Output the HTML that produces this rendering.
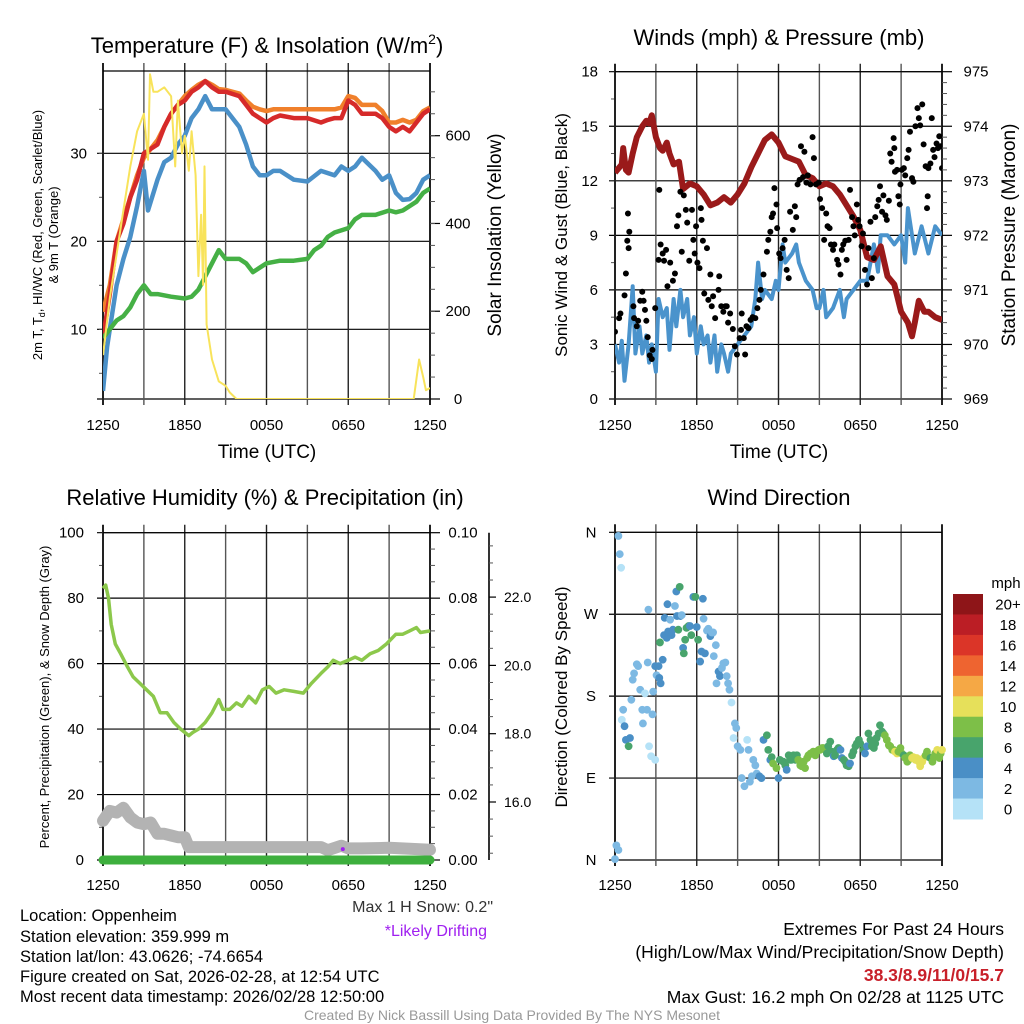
<!DOCTYPE html>
<html><head><meta charset="utf-8">
<style>
html,body{margin:0;padding:0;background:#fff;}
svg{display:block;font-family:"Liberation Sans",Arial,sans-serif;}
</style></head>
<body>
<svg id="chart" width="1024" height="1024" viewBox="0 0 1024 1024" xmlns="http://www.w3.org/2000/svg">
<rect width="1024" height="1024" fill="#fff"/>
<g id="layer"></g>
<text x="267" y="53" font-size="22" text-anchor="middle">Temperature (F) &amp; Insolation (W/m<tspan dy="-9" font-size="14">2</tspan><tspan dy="9">)</tspan></text>
<text x="779" y="45" font-size="22" text-anchor="middle">Winds (mph) &amp; Pressure (mb)</text>
<text x="265" y="505" font-size="22" text-anchor="middle">Relative Humidity (%) &amp; Precipitation (in)</text>
<text x="779" y="505" font-size="22" text-anchor="middle">Wind Direction</text>
<text x="267" y="458" font-size="19" text-anchor="middle">Time (UTC)</text>
<text x="779" y="458" font-size="19" text-anchor="middle">Time (UTC)</text>
<text transform="translate(42,235) rotate(-90)" font-size="13" text-anchor="middle">2m T, T<tspan font-size="9" dy="3">d</tspan><tspan dy="-3">, HI/WC (Red, Green, Scarlet/Blue)</tspan></text>
<text transform="translate(58,235) rotate(-90)" font-size="13" text-anchor="middle">&amp; 9m T (Orange)</text>
<text transform="translate(501,235) rotate(-90)" font-size="19" text-anchor="middle">Solar Insolation (Yellow)</text>
<text transform="translate(567,235) rotate(-90)" font-size="17" text-anchor="middle">Sonic Wind &amp; Gust (Blue, Black)</text>
<text transform="translate(1015,235) rotate(-90)" font-size="19" text-anchor="middle">Station Pressure (Maroon)</text>
<text transform="translate(49,697) rotate(-90)" font-size="13" text-anchor="middle">Percent, Precipitation (Green), &amp; Snow Depth (Gray)</text>
<text transform="translate(567,697) rotate(-90)" font-size="17" text-anchor="middle">Direction (Colored By Speed)</text>
<text x="493" y="912" font-size="16" fill="#333" text-anchor="end">Max 1 H Snow: 0.2"</text>
<text x="487" y="936" font-size="16" fill="#a020f0" text-anchor="end">*Likely Drifting</text>
<g font-size="16.5">
<text x="20" y="921">Location: Oppenheim</text>
<text x="20" y="942">Station elevation: 359.999 m</text>
<text x="20" y="962">Station lat/lon: 43.0626; -74.6654</text>
<text x="20" y="982">Figure created on Sat, 2026-02-28, at 12:54 UTC</text>
<text x="20" y="1002">Most recent data timestamp: 2026/02/28 12:50:00</text>
</g>
<g font-size="17.5" text-anchor="end">
<text x="1004" y="935">Extremes For Past 24 Hours</text>
<text x="1004" y="958">(High/Low/Max Wind/Precipitation/Snow Depth)</text>
<text x="1004" y="981" fill="#c8202a" font-weight="bold">38.3/8.9/11/0/15.7</text>
<text x="1004" y="1003">Max Gust: 16.2 mph On 02/28 at 1125 UTC</text>
</g>
<text x="512" y="1020" font-size="14" fill="#999" text-anchor="middle">Created By Nick Bassill Using Data Provided By The NYS Mesonet</text>
</svg>
<script>
const timeLabels = ["1250","1850","0050","0650","1250"];
const timeTickHours = [0,6,12,18,24];
const tempTimes = [0,0.5,1,1.5,2,2.5,3,3.5,4,4.5,5,5.5,6,6.5,7,7.5,8,8.5,9,10,10.5,11,11.5,12,12.5,13,14,15,16,16.5,17,17.5,18,18.5,19,20,20.5,21,21.5,22,22.5,23,23.5,24];
const temp2m = [9,14,20,22,25,27,30,30.5,31,33,34.5,35.5,36,37,37.5,38.2,37.5,37,37,36.5,35.5,34.5,34,33.5,34,34.3,34,34,33.5,33.8,34,34,36,35.5,34.5,34.5,34,33,32.5,33,32.5,33.5,34.5,35];
const temp9m = [12,15,20,22.5,25,27.5,29.5,30.5,31.5,33,34.5,35.5,36.5,37.2,37.8,38.2,37.8,37.3,37.2,36.8,36,35.3,35,34.8,35,35,35,35,35,35,35,35.2,36.5,36.3,35.5,35.5,34.8,33.5,33.5,33.8,33.5,33.8,34.8,35.2];
const heatIndexTimes = [0,0.3,0.7,1,1.5,2,2.5,3,3.3,4,4.5,5,5.5,6,6.5,7,7.5,8,9,10,10.5,11,11.5,12,12.5,13,14,15,16,17,17.5,18,18.5,19,20,20.5,21,21.5,22,22.5,23,23.5,24];
const heatIndex = [3,8,12,15,18,20.5,24,28,23.5,27,29,29.5,31,32,34,35,36.5,35,35,33,31,28.5,27.5,27.5,28,28,27,26.8,28,27.5,28.5,28,28.5,29.5,28,27,27.5,25.5,24.7,24.8,25.5,27,27.5];
const dewTimes = [0,0.5,1,1.5,2,2.5,3,3.5,4,5,6,6.5,7,7.5,8,8.5,9,10,10.5,11,11.5,12,13,14,15,15.5,16,16.5,17,18,18.5,19,20,21,21.5,22,22.5,23,23.5,24];
const dewPoint = [9,10,11,11.5,12.5,14,15,14,14,13.7,13.5,13.7,14.5,16,17.5,19,18,18,17.5,16.5,17,17.5,17.8,17.8,18,19,19.5,20.5,21,21.5,22.5,23,23,23.5,23.3,23.5,24,24.5,25.5,26];
const solarTimes = [0,0.5,1,1.5,2,2.5,3,3.3,3.45,3.7,4,4.5,5,5.3,5.5,5.8,6,6.3,6.5,6.8,7,7.2,7.35,7.45,7.6,8,8.5,9,9.3,9.8,22.8,23.2,23.5,23.7,24];
const solar = [100,230,330,430,530,610,650,545,740,700,700,710,690,530,680,560,600,520,610,510,280,420,260,530,170,90,40,30,15,0,0,90,50,20,25];
const windTimes = [0,0.3,0.5,0.7,1,1.3,1.5,1.8,2,2.3,2.5,2.7,3,3.2,3.5,3.8,4,4.3,4.5,4.8,5,5.3,5.5,5.8,6,6.3,6.5,6.8,7,7.3,7.5,7.8,8,8.3,8.5,9,9.5,10,10.3,10.5,10.8,11,11.5,11.8,12,12.3,12.5,13,13.3,13.5,14,14.5,14.8,15,15.3,15.5,16,16.5,16.8,17,17.5,18,18.5,19,19.3,19.5,20,20.5,21,21.3,21.5,22,22.5,23,23.5,24];
const windSpeed = [3,2,3.2,1,3,6.2,2.5,4,2.5,3.5,2,3,1.5,5.5,4.5,5,2.7,5.5,4,6,4.5,5.5,3.5,4.5,2.5,4,3,3.5,2,3.5,1.5,3,2.5,1.5,2.5,3,3.5,4,5.5,7.5,5.5,6,5.5,6.5,6,8.5,7.5,8,8.5,7.5,6.5,6,5,5,6,4.5,5,6,4.5,5.5,6,6.5,6.5,8.5,7,9,9,8.5,9,7.5,10.5,8,9.5,8,9.5,9];
const gustTimes = [0,0.3,0.4,0.7,0.8,0.9,0.95,1.05,1,1.35,1.4,1.6,1.7,1.85,2,2.1,2.2,2.3,2.4,2.55,2.7,2.75,2.95,3.2,3.25,3.35,3.5,3.6,3.75,3.85,4.05,4.25,4.4,4.55,4.65,4.8,4.9,5.05,5.2,5.3,5.45,5.65,5.75,5.85,5.95,6.05,6.2,6.3,6.35,6.45,6.55,6.75,6.85,7,7.1,7.2,7.35,7.6,7.65,7.8,7.95,8.1,8.2,8.3,8.45,8.65,8.8,8.95,9.15,9.25,9.3,9.45,9.55,9.65,9.8,9.95,10.1,10.3,10.45,10.6,10.7,10.9,11.15,11.25,11.4,11.5,11.6,11.7,11.85,11.9,12.05,12.15,12.3,12.45,12.6,12.75,12.85,13.05,13.2,13.3,13.4,13.55,13.65,13.8,13.9,14.05,14.15,14.35,14.5,14.6,14.75,14.95,15.05,15.2,15.35,15.5,15.6,15.75,15.85,16,16.1,16.3,16.4,16.55,16.65,16.75,16.9,17,17.15,17.25,17.4,17.5,17.6,17.75,17.85,17.95,18.1,18.2,18.35,18.5,18.6,18.75,18.85,19,19.1,19.25,19.35,19.45,19.6,19.7,19.85,19.95,20.1,20.2,20.3,20.45,20.5,20.55,20.7,20.8,20.9,20.95,21.05,21.2,21.3,21.45,21.55,21.65,21.8,21.9,22.05,22.2,22.3,22.4,22.55,22.65,22.8,22.9,22.95,23,23.15,23.25,23.35,23.45,23.6,23.7,23.8,23.9,24];
const gustSpeed = [3.7,4.45,4.7,5.7,6.9,8.7,10.2,9.2,8.3,5.1,4.45,4,4.3,5.4,5.9,5.4,4.9,4.3,3.4,2.4,2.2,2.7,5,7.65,11.5,8.5,8,7.6,8.2,6.2,7.5,6.5,6.9,9.5,10.1,11.4,8.1,11.2,10.4,9.7,7.6,10.4,8.75,8,9.5,7.5,7.2,10.5,9.85,8.7,5.8,8.3,5.45,6.85,5.1,5.65,4.45,6,6.75,5.1,4.8,5.1,5.1,4.2,4.7,3.85,2.9,2.45,3.35,3.8,4.7,3.35,2.45,4,3.9,4.35,4.5,4.45,5,5.45,6,6.85,8.1,8.75,9.2,10,10.2,11.6,10.7,9.4,8,7.75,8.3,8.75,7.1,6.65,10.3,9.3,10.6,10,11.8,12.05,13.9,12.2,13.6,11.9,12.3,11.8,14.4,13.25,11.8,11.9,11,10.5,8.75,10.2,9.5,9.4,8.5,8.2,8.5,7.65,7.4,6.85,8.2,8.5,8.7,7.65,8.75,11.5,10,9.5,9,10.7,9.85,9.5,8.4,9.1,7.1,6.3,8.3,9.75,6.65,7.75,10,10.6,10.95,11.7,10.3,11.2,10.1,9.85,10.9,13.5,13.05,14.35,13.8,12.5,12.6,11.15,10.7,11.8,12.6,12.7,12.3,13.25,13.7,14.7,12.15,11.95,15,16,15.45,15.05,16.2,14,12.8,10.5,11.15,12.7,12.95,15.45,13.7,13.3,14.05,13.8,14.45,13.9,12.7];
const pressTimes = [0,0.5,0.6,0.8,1,1.3,1.6,2,2.3,2.5,2.7,3,3.3,3.5,3.8,4,4.3,4.7,5,5.5,6,6.5,7,7.5,8,8.5,9,9.5,10,10.5,11,11.5,12,12.5,13,13.5,14,14.5,15,15.5,16,16.5,17,17.5,18,18.5,19,19.5,20,20.5,21,21.5,21.8,22,22.3,22.7,23,23.5,24];
const pressure = [973.15,973.3,973.6,973.2,973.15,973.5,973.8,974.0,974.1,974.05,974.2,973.8,973.6,973.55,973.7,973.5,973.3,973.35,972.85,972.95,972.9,972.75,972.55,972.6,972.7,972.6,972.75,972.95,973.25,973.5,973.75,973.85,973.7,973.45,973.4,973.35,973.1,973.05,972.9,972.95,972.9,972.75,972.55,972.35,972.1,971.6,971.55,971.8,971.25,971.1,970.6,970.4,970.15,970.4,970.8,970.6,970.6,970.5,970.45];
const rhTimes = [0,0.2,0.4,0.6,0.9,1.3,1.8,2.2,2.7,3.2,3.7,4.2,4.7,5.2,5.7,6.3,6.6,7,7.5,8,8.5,8.8,9.3,9.8,10.2,10.7,11.2,11.7,12.2,12.7,13.3,14,14.7,15.3,16,16.5,16.9,17.4,18,18.5,19,19.6,20.2,20.8,21.5,22,22.5,23,23.3,24];
const relHumidity = [83,84,80,72,66,63,59,56,54,52,50,45,45,42,40,38,39,40,42,45,49,46,46,48,47,50,48,52,53,51,52,51.5,51,54,57,59,61,60,61,62,61,63,64,66,69,69,70,71,69.5,70];
const snowTimes = [0,0.5,1,1.5,2,2.5,3,3.5,4,4.5,5,5.5,6,6.3,7,10,14,16,16.5,17.5,18,19,21,24];
const snowDepth = [15.45,15.74,15.69,15.83,15.55,15.4,15.35,15.4,15.07,15.07,15.02,14.97,14.97,14.68,14.68,14.68,14.68,14.68,14.59,14.72,14.64,14.64,14.66,14.6];
const precipTimes = [0,24];
const precip = [0,0];
const driftTimes = [17.6];
const driftDepth = [14.62];
const dirTimes = [0.25,0.35,0.45,0,0.1,0.25,0.6,0.5,0.7,0.8,1,1.1,1.2,1.3,1.4,1.6,1.7,1.85,2,2.05,2.2,2.35,2.4,2.45,2.5,2.65,2.75,2.8,2.95,2.95,3.05,3.2,3.25,3.3,3.35,3.5,3.6,3.65,3.8,3.85,3.9,4.05,4.15,4.25,4.4,4.5,4.55,4.75,4.65,4.8,4.9,5,5.05,5.15,5.25,5.4,5.5,5.6,5.75,5.9,6,6.1,6.25,6.35,6.45,6.5,6.6,6.75,6.85,7,7.1,7.2,7.25,7.4,7.45,7.6,7.7,7.85,7.95,8.1,8.2,8.3,8.4,8.55,8.7,8.8,8.9,9,9.2,9.3,9.5,9.7,9.8,9.9,10.05,10.15,10.3,10.4,10.6,10.75,10.9,11.15,11.25,11.4,11.5,11.6,11.85,12,12.1,12.35,12.5,12.6,12.75,12.85,12.95,13.1,13.25,13.35,13.45,13.6,13.7,13.85,13.95,14.1,14.2,14.35,14.45,14.55,14.7,14.8,14.95,15.05,15.2,15.3,15.45,15.55,15.65,15.8,15.9,16.05,16.15,16.3,16.4,16.55,16.65,16.8,16.9,17,17.15,17.25,17.4,17.5,17.65,17.75,17.9,18,18.25,18.35,18.5,18.6,18.75,18.85,19,19.1,19.2,19.35,19.45,19.6,19.7,19.8,19.95,20.1,20.2,20.35,20.45,20.55,20.7,20.8,20.95,21.05,21.2,21.3,21.45,21.55,21.65,21.8,21.9,22.05,22.15,22.3,22.4,22.55,22.65,22.8,22.9,23.05,23.15,23.3,23.4,23.5,23.65,23.8,23.9,24];
const dirDegrees = [356,336,321,1,16,11,165,154,147,132,125,134,176,198,205,215,213,187,165,150,183,165,217,275,125,114,160,185,110,213,203,213,200,239,194,220,247,266,244,281,251,264,247,253,279,295,268,300,253,268,269,233,227,242,255,257,257,247,289,289,256,242,218,229,287,265,227,252,254,246,250,250,224,236,194,207,202,211,216,217,202,194,187,173,134,150,145,125,121,90,81,132,121,86,92,110,104,95,92,90,132,137,121,110,113,106,101,90,110,108,104,99,115,110,110,115,110,115,110,104,103,108,101,112,115,117,117,119,115,119,121,121,123,123,121,117,125,130,119,114,115,121,123,121,112,110,108,104,103,106,115,119,125,128,132,128,121,117,125,139,132,125,123,128,134,139,148,141,139,137,132,126,125,121,121,119,117,119,123,117,115,112,108,110,115,112,113,110,112,108,103,108,112,115,119,113,112,108,113,117,121,112,117,121];
const dirSpeeds = [3,3,1,3,2,2,3,1,4,4,6,4,3,3,3,3,3,3,3,3,1,3,3,3,1,1,3,3,1,4,3,4,4,6,4,4,4,4,4,4,4,3,4,4,3,4,4,6,6,4,3,4,6,6,6,6,4,6,4,6,4,6,4,4,4,3,4,3,3,4,3,3,3,3,3,4,4,3,3,3,3,3,3,1,1,3,3,3,3,3,3,1,3,3,3,3,3,3,4,4,4,6,6,4,6,8,8,4,6,6,6,4,6,6,6,6,6,6,8,8,8,8,8,8,8,8,8,8,8,8,8,8,8,8,8,6,6,6,6,4,6,6,6,4,4,6,6,6,6,4,6,6,6,6,6,6,6,4,4,6,6,6,6,6,6,6,6,6,6,8,8,8,8,8,8,10,10,8,8,8,6,8,8,8,8,10,10,10,10,10,10,10,10,8,8,8,6,8,8,8,10,8,8,10,8,8];
const speedBinLabels = ["0","2","4","6","8","10","12","14","16","18","20+"];
const speedBinColors = ["#b5e2f7","#7db9e3","#4a8fc6","#48a46c","#7dbf48","#e6e05a","#f5a845","#ee6430","#db3528","#bb1e25","#8e1518"];

const NS = "http://www.w3.org/2000/svg";
const layer = document.getElementById("layer");
function scale(d0,d1,r0,r1){return v=>r0+(v-d0)/(d1-d0)*(r1-r0);}
function el(tag, attrs, parent){
  const e=document.createElementNS(NS,tag);
  for(const k in attrs) e.setAttribute(k,attrs[k]);
  (parent||layer).appendChild(e);
  return e;
}
function linePath(xs,ys,X,Y){
  return xs.map((t,i)=>(i?"L":"M")+X(t).toFixed(1)+","+Y(ys[i]).toFixed(1)).join("");
}
function panel(name,x0,x1,y0,y1,yTicksPix,leftMinorPix){
  const g=el("g",{});
  
  
  yTicksPix.forEach(y=>{
    const l=el("line",{x1:x0-6,x2:x1,y1:y,y2:y,stroke:"#000","stroke-width":1.2},g);
    
    
  });
  (leftMinorPix||[]).forEach(y=>{
    const l=el("line",{x1:x0-4,x2:x0,y1:y,y2:y,stroke:"#555","stroke-width":1},g);
    
    
  });
  for(let i=0;i<=8;i++){
    const x=x0+(x1-x0)*i/8;
    const l=el("line",{x1:x,x2:x,y1:y0-8,y2:y1+6,stroke:i%2?"#555":"#222","stroke-width":(i==0||i==8)?2:1.4},g);
    
    
  }
  const top=el("line",{x1:x0,x2:x1,y1:y0,y2:y0,stroke:"#000","stroke-width":1.2},g);
  
  
  return g;
}
function timeLabelsAt(name,X,y){
  timeTickHours.forEach((h,i)=>{
    const t=el("text",{x:X(h),y:y,"font-size":15,"text-anchor":"middle"});
    t.textContent=timeLabels[i];
    
    
  });
}
function leftLabels(name,vals,Y,x,fs){
  vals.forEach(v=>{
    const t=el("text",{x:x,y:Y(v)+5,"font-size":fs||15,"text-anchor":"end"});
    t.textContent=v;
    
    
  });
}
function rightAxis(name,xa,vals,minor,Y,fmt,lx){
  vals.forEach(v=>{
    const tk=el("line",{x1:xa,x2:xa+10,y1:Y(v),y2:Y(v),stroke:"#000","stroke-width":1.2});
    
    
    const t=el("text",{x:lx,y:Y(v)+5,"font-size":15,"text-anchor":"middle"});
    t.textContent=fmt(v);
    
    
  });
  minor.forEach(v=>{
    const tk=el("line",{x1:xa,x2:xa+5,y1:Y(v),y2:Y(v),stroke:"#555","stroke-width":1});
    
    
  });
}
function range(a,b,s){const r=[];for(let v=a;v<=b+1e-9;v+=s)r.push(+v.toFixed(4));return r;}

const X1=scale(0,24,103,430);
const YT=scale(10,30,329.3,153.3);
const YS=scale(0,600,399,135.7);
panel("temperature",103,430,71,399,[YT(10),YT(20),YT(30),399],range(5,35,5).map(YT).filter(y=>y<399&&y>71));
leftLabels("temperature",[10,20,30],YT,87);
rightAxis("solar",430,[0,200,400,600],range(50,700,50),YS,v=>v,458);
const clip1=el("clipPath",{id:"c1"});el("rect",{x:103,y:71,width:327,height:328},clip1);
const gT=el("g",{"clip-path":"url(#c1)"});


let p;
p=el("path",{d:linePath(tempTimes,temp9m,X1,YT),fill:"none",stroke:"#f0802b","stroke-width":4.5,"stroke-linejoin":"round"},gT);


p=el("path",{d:linePath(tempTimes,temp2m,X1,YT),fill:"none",stroke:"#d62a2a","stroke-width":4.5,"stroke-linejoin":"round"},gT);


p=el("path",{d:linePath(heatIndexTimes,heatIndex,X1,YT),fill:"none",stroke:"#4a90c8","stroke-width":4.5,"stroke-linejoin":"round"},gT);


p=el("path",{d:linePath(dewTimes,dewPoint,X1,YT),fill:"none",stroke:"#45b045","stroke-width":4.5,"stroke-linejoin":"round"},gT);


p=el("path",{d:linePath(solarTimes,solar,X1,YS),fill:"none",stroke:"#f8e35b","stroke-width":2,"stroke-linejoin":"round"},gT);


timeLabelsAt("temperature",X1,430);

const X2=scale(0,24,615,942);
const YW=scale(0,18,399,71.7);
const YP=scale(969,975,399,71.7);
panel("winds",615,942,71.7,399,range(0,18,3).map(YW),range(1.5,16.5,3).map(YW));
leftLabels("winds",range(0,18,3),YW,598);
rightAxis("pressure",942,range(969,975,1),range(969.2,974.8,0.2).filter(v=>Math.abs(v-Math.round(v))>0.01),YP,v=>v,976);
const clip2=el("clipPath",{id:"c2"});el("rect",{x:615,y:71,width:327,height:328},clip2);
const gW=el("g",{"clip-path":"url(#c2)"});


p=el("path",{d:linePath(windTimes,windSpeed,X2,YW),fill:"none",stroke:"#4a93cc","stroke-width":4,"stroke-linejoin":"round"},gW);


p=el("path",{d:linePath(pressTimes,pressure,X2,YP),fill:"none",stroke:"#9a1a1a","stroke-width":6,"stroke-linejoin":"round"},gW);


gustTimes.forEach((t,i)=>{
  const c=el("circle",{cx:X2(t),cy:YW(gustSpeed[i]),r:3,fill:"#000"},gW);
  
  
});
timeLabelsAt("winds",X2,430);

const YH=scale(0,100,860,532.7);
const YR=scale(0,0.1,860,532.7);
const YD=scale(16,18,802,733.7);
panel("humidity",103,430,532.7,860,range(0,100,20).map(YH),range(10,90,20).map(YH));
leftLabels("humidity",range(0,100,20),YH,84);
rightAxis("precip",430,range(0,0.1,0.02),range(0.005,0.095,0.005).filter((v,i)=>i%4!==3),YR,v=>v.toFixed(2),463);
const sa=el("line",{x1:489,x2:489,y1:532.7,y2:860,stroke:"#000","stroke-width":1.6});


[16,18,20,22].forEach(v=>{
  const tk=el("line",{x1:489,x2:496,y1:YD(v),y2:YD(v),stroke:"#000","stroke-width":1.2});
  
  
  const t=el("text",{x:504,y:YD(v)+5,"font-size":14,"text-anchor":"start"});
  t.textContent=v.toFixed(1);
  
  
});
range(14.5,23.5,0.5).filter(v=>v%2!==0).forEach(v=>{
  if(YD(v)<532||YD(v)>860) return;
  const tk=el("line",{x1:489,x2:493,y1:YD(v),y2:YD(v),stroke:"#555","stroke-width":1});
  
  
});
const gH=el("g",{});


p=el("path",{d:linePath(snowTimes,snowDepth,X1,YD),fill:"none",stroke:"#b3b3b3","stroke-width":12,"stroke-linejoin":"round","stroke-linecap":"round"},gH);


p=el("path",{d:linePath(precipTimes,precip,X1,YR),fill:"none",stroke:"#3daf3d","stroke-width":9,"stroke-linecap":"round"},gH);


p=el("path",{d:linePath(rhTimes,relHumidity,X1,YH),fill:"none",stroke:"#8cc84b","stroke-width":3.5,"stroke-linejoin":"round"},gH);


driftTimes.forEach((t,i)=>{
  const c=el("circle",{cx:X1(t),cy:YD(driftDepth[i]),r:2,fill:"#a020f0"},gH);
  
  
});
timeLabelsAt("humidity",X1,890);

const YDir=scale(0,360,860,532.3);
panel("direction",615,942,532.3,860,[0,90,180,270,360].map(YDir),[]);
const dirNames=["N","E","S","W","N"];
[0,90,180,270,360].forEach((v,i)=>{
  const t=el("text",{x:591,y:YDir(v)+5,"font-size":15,"text-anchor":"middle"});
  t.textContent=dirNames[i];
  
  
});
const gD=el("g",{});


dirTimes.forEach((t,i)=>{
  const bin=Math.min(10,Math.floor(dirSpeeds[i]/2));
  const c=el("circle",{cx:X2(t),cy:YDir(dirDegrees[i]),r:3.9,fill:speedBinColors[bin]},gD);
  
  
});
timeLabelsAt("direction",X2,890);
const mph=el("text",{x:1006,y:588,"font-size":15,"text-anchor":"middle"});
mph.textContent="mph";


const cb0=594, cbH=225/11;
speedBinLabels.forEach((lab,i)=>{
  const k=10-i;
  const r=el("rect",{x:953,y:cb0+i*cbH,width:30,height:cbH+0.5,fill:speedBinColors[k]});
  
  
  const t=el("text",{x:1008,y:cb0+i*cbH+cbH/2+5.5,"font-size":15,"text-anchor":"middle"});
  t.textContent=speedBinLabels[k];
  
  
});
</script>
</body></html>
